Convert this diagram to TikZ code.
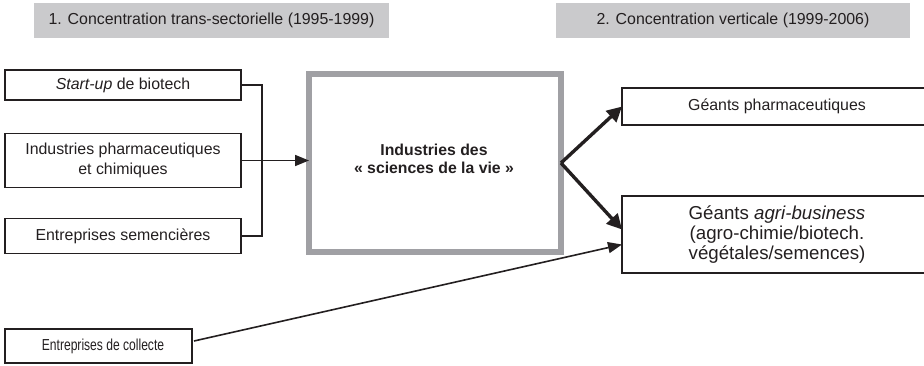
\documentclass[tikz,border=0pt]{standalone}
\usepackage{fontspec}
\setmainfont{Liberation Sans}
\newfontfamily\narrowsans[FakeStretch=0.76]{Liberation Sans}
\usetikzlibrary{arrows.meta,calc}
\definecolor{ink}{RGB}{35,31,32}
\definecolor{hdr}{RGB}{202,202,204}
\definecolor{bigc}{RGB}{160,160,164}
\tikzset{
  every node/.style={outer sep=0pt, inner sep=0pt, text=ink, font=\fontsize{15.9}{19.5}\selectfont, align=center},
  hdrbox/.style={fill=hdr, minimum height=35pt},
  leftbox/.style={draw=ink, line width=1.3pt, minimum width=236pt},
  rightbox/.style={draw=ink, line width=2pt, minimum width=310pt},
  bigbox/.style={draw=bigc, line width=5.5pt, minimum width=252pt, minimum height=178pt},
  bigtext/.style={font=\fontsize{15.8}{18.5}\selectfont\bfseries},
  thinconn/.style={draw=ink, line width=1.6pt},
  thinarrow/.style={thinconn, -{Triangle[length=14pt,width=11pt]}},
  thickarrow/.style={draw=ink, line width=3.4pt, -{Triangle[length=15pt,width=15pt]}}
}
\begin{document}
\begin{tikzpicture}[x=1pt,y=-1pt]
\useasboundingbox (0,0) rectangle (924,366);
% headers
\node[hdrbox, minimum width=355pt] (h1) at (211.5,20.5) {1. Concentration trans-sectorielle (1995-1999)};
\node[hdrbox, minimum width=354pt] (h2) at (733,20.5) {2. Concentration verticale (1999-2006)};
% left boxes
\node[leftbox, minimum height=30pt] (su) at (123,85) {\textit{Start-up} de biotech};
\node[leftbox, minimum height=54pt] (ph) at (123,160.5) {Industries pharmaceutiques\\et chimiques};
\node[leftbox, minimum height=35pt] (se) at (123,236) {Entreprises semencières};
\node[leftbox, minimum width=187pt, minimum height=34pt] (co) at (98.5,346) {};
\node[font=\fontsize{15.9}{19}\narrowsans] (cot) at (103,346) {Entreprises de collecte};
% big box
\node[bigbox] (big) at (435,163) {};
\node[bigtext] (bigt) at (434,159) {Industries des\\«~sciences de la vie~»};
% right boxes
\node[rightbox, minimum height=37pt] (gp) at (777,106.5) {Géants pharmaceutiques};
\node[rightbox, minimum height=77pt, font=\fontsize{18.7}{20.3}\selectfont] (ag) at (777,234.5) {Géants \textit{agri-business}\\(agro-chimie/biotech.\\végétales/semences)};
% connectors
\coordinate (j) at (262,85);
\draw[thinconn] (su.east) -- (su.east -| j) -- (se.east -| j) -- (se.east);
\draw[thinarrow] (ph.east) -- (ph.east -| big.west);
\draw[thickarrow] (big.east) -- (gp.west);
\draw[thickarrow] (big.east) -- ($(ag.west)+(0,-5)$);
\coordinate (cs) at ($(co.east)+(2,-5)$);
\draw[thinarrow] (cs) -- ($(ag.west)+(0,10)$);
\end{tikzpicture}
\end{document}
